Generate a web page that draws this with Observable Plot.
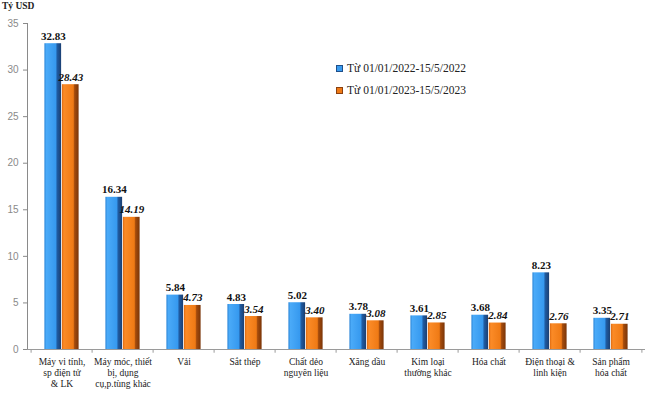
<!DOCTYPE html>
<html>
<head>
<meta charset="utf-8">
<script src="https://cdn.jsdelivr.net/npm/d3@7"></script>
<script src="https://cdn.jsdelivr.net/npm/@observablehq/plot@0.6"></script>
<style>
  body { margin: 0; background: #fff; }
  #wrap { position: relative; width: 650px; height: 394px; }
  #unit { position: absolute; left: 2px; top: 1px; font: bold 9.5px "Liberation Serif", serif; color: #222; }
  #legend { position: absolute; left: 336px; top: 57px; font: 11.5px "Liberation Serif", serif; color: #222; }
  #legend .item { display: flex; align-items: center; height: 22px; }
  #legend .sw { width: 5px; height: 5px; margin-right: 4px; }
</style>
</head>
<body>
<div id="wrap">
  <div id="chart"></div>
  <div id="unit">Tỷ USD</div>
  <div id="legend"></div>
</div>
<script>
const categories = [
  "Máy vi tính,\nsp điện tử\n& LK",
  "Máy móc, thiết\nbị, dụng\ncụ,p.tùng khác",
  "Vải",
  "Sắt thép",
  "Chất dẻo\nnguyên liệu",
  "Xăng dầu",
  "Kim loại\nthường khác",
  "Hóa chất",
  "Điện thoại &\nlinh kiện",
  "Sản phẩm\nhóa chất"
];
const series = ["Từ 01/01/2022-15/5/2022", "Từ 01/01/2023-15/5/2023"];
const values2022 = [32.83, 16.34, 5.84, 4.83, 5.02, 3.78, 3.61, 3.68, 8.23, 3.35];
const values2023 = [28.43, 14.19, 4.73, 3.54, 3.40, 3.08, 2.85, 2.84, 2.76, 2.71];
const yTicks = [0, 5, 10, 15, 20, 25, 30, 35];

const W = 650, H = 394;
const mL = 27, mR = 5, mT = 23, mB = 45;
const step = (W - mL - mR) / categories.length;
const barW = 17.5;
const gap = step / 2 - barW;

const d22 = categories.map((c, i) => ({cat: c, v: values2022[i]}));
const d23 = categories.map((c, i) => ({cat: c, v: values2023[i]}));

const chart = Plot.plot({
  width: W, height: H,
  marginLeft: mL, marginRight: mR, marginTop: mT, marginBottom: mB,
  style: {color: "#8a8a8a", background: "#fff", fontFamily: "'Liberation Sans', sans-serif", fontSize: "10px"},
  x: {domain: categories, padding: 0, axis: null},
  y: {domain: [0, 35], ticks: yTicks, tickSize: 4, tickPadding: 5, label: null, line: true, tickFormat: d => d},
  marks: [
    Plot.barY(d22, {x: "cat", y: "v", fill: "url(#gBlue)", insetLeft: gap, insetRight: step / 2}),
    Plot.barY(d23, {x: "cat", y: "v", fill: "url(#gOrange)", insetLeft: step / 2, insetRight: gap}),
    Plot.ruleY([0], {stroke: "#9a9a9a"}),
    Plot.ruleX(categories, {x: d => d, dx: -step / 2, y1: 0, y2: -0.4, stroke: "#9a9a9a"}),
    Plot.ruleX([categories[categories.length - 1]], {x: d => d, dx: step / 2, y1: 0, y2: -0.4, stroke: "#9a9a9a"}),
    Plot.text(d22, {x: "cat", y: "v", text: d => d.v.toFixed(2), dx: -barW / 2, lineAnchor: "bottom", dy: -4,
      fill: "#111", fontWeight: "bold", fontSize: 11, fontFamily: "'Liberation Serif', serif"}),
    Plot.text(d23, {x: "cat", y: "v", text: d => d.v.toFixed(2), dx: barW / 2, lineAnchor: "bottom", dy: -4,
      fill: "#111", fontWeight: "bold", fontStyle: "italic", fontSize: 11, fontFamily: "'Liberation Serif', serif"}),
    Plot.text(categories, {x: d => d, y: 0, text: d => d, lineAnchor: "top", dy: 7, lineHeight: 1.2,
      fill: "#222", fontSize: 9.5, fontFamily: "'Liberation Serif', serif"})
  ]
});

d3.select(chart).insert("defs", ":first-child").html(`
  <linearGradient id="gBlue" x1="0" x2="1" y1="0" y2="0">
    <stop offset="0" stop-color="#2c86d8"/>
    <stop offset="0.12" stop-color="#4aaaf8"/>
    <stop offset="0.68" stop-color="#3699ef"/>
    <stop offset="0.76" stop-color="#1f5ca3"/>
    <stop offset="1" stop-color="#1b3f72"/>
  </linearGradient>
  <linearGradient id="gOrange" x1="0" x2="1" y1="0" y2="0">
    <stop offset="0" stop-color="#de6a10"/>
    <stop offset="0.12" stop-color="#fb8b27"/>
    <stop offset="0.68" stop-color="#ef7a15"/>
    <stop offset="0.76" stop-color="#a44b0c"/>
    <stop offset="1" stop-color="#7a3508"/>
  </linearGradient>`);

document.getElementById("chart").appendChild(chart);

const colors = ["#3a9cf0", "#ef7a15"];
const borders = ["#1f4f8a", "#8a4010"];
const lg = d3.select("#legend");
series.forEach((s, i) => {
  const it = lg.append("div").attr("class", "item");
  it.append("span").attr("class", "sw").style("background", colors[i]).style("border", `1px solid ${borders[i]}`);
  it.append("span").text(s);
});
</script>
</body>
</html>
